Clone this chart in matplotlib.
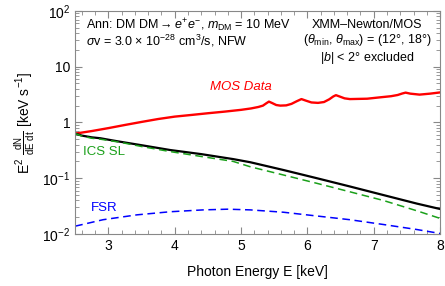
import matplotlib
matplotlib.use('Agg')
import matplotlib.pyplot as plt
from matplotlib.ticker import MultipleLocator, LogLocator, NullFormatter

plt.rcParams['font.family'] = ['Liberation Sans', 'DejaVu Sans']
plt.rcParams['mathtext.fontset'] = 'custom'
plt.rcParams['mathtext.rm'] = 'Liberation Sans'
plt.rcParams['mathtext.it'] = 'Liberation Sans:italic'
plt.rcParams['mathtext.bf'] = 'Liberation Sans:bold'

# datos
E_mos = [2.5, 2.75, 3.0, 3.25, 3.5, 3.75, 4.0, 4.25, 4.5, 4.75, 5.0, 5.15, 5.26,
         5.33, 5.38, 5.42, 5.47, 5.53, 5.59, 5.68, 5.76, 5.84, 5.91, 5.98, 6.06,
         6.16, 6.25, 6.33, 6.39, 6.43, 6.49, 6.56, 6.64, 6.9, 7.1, 7.26, 7.36,
         7.43, 7.48, 7.55, 7.69, 7.85, 8.0]
mos = [0.63, 0.70, 0.79, 0.90, 1.02, 1.15, 1.27, 1.36, 1.46, 1.56, 1.68, 1.78, 1.89,
       2.00, 2.20, 2.36, 2.22, 2.05, 2.00, 2.02, 2.15, 2.40, 2.62, 2.45, 2.28,
       2.24, 2.32, 2.60, 2.92, 3.08, 2.90, 2.70, 2.62, 2.66, 2.82, 2.95, 3.10,
       3.30, 3.42, 3.28, 3.15, 3.28, 3.45]

E_mod = [2.5, 2.6, 2.75, 2.88, 3.0, 3.18, 3.5, 3.93, 4.4, 4.88, 5.14, 5.64,
         6.14, 6.64, 7.14, 7.65, 8.0]
total = [0.63, 0.58, 0.54, 0.52, 0.49, 0.45, 0.39, 0.32, 0.27, 0.22, 0.193, 0.14,
         0.10, 0.071, 0.050, 0.035, 0.028]
ics = [0.63, 0.57, 0.52, 0.50, 0.475, 0.44, 0.37, 0.30, 0.245, 0.20, 0.16, 0.114,
       0.081, 0.057, 0.040, 0.026, 0.019]

E_fsr = [2.5, 2.58, 2.92, 3.43, 3.93, 4.43, 4.8, 5.14, 5.64, 6.14, 6.64, 7.14, 7.65, 8.0]
fsr = [0.0138, 0.0145, 0.018, 0.022, 0.025, 0.027, 0.0278, 0.027, 0.0245, 0.021,
       0.018, 0.0148, 0.012, 0.0102]

fig = plt.figure(figsize=(4.45, 2.86), dpi=100)
ax = fig.add_axes([0.169, 0.182, 0.820, 0.780])

ax.plot(E_mos, mos, color='red', lw=1.7)
ax.plot(E_mod, total, color='black', lw=1.6)
ax.plot(E_mod, ics, color='#1aa01a', lw=1.1, ls=(0, (5, 3)))
ax.plot(E_fsr, fsr, color='blue', lw=1.1, ls=(0, (5, 3)))

ax.set_yscale('log')
ax.set_xlim(2.5, 8)
ax.set_ylim(1e-2, 1e2)
ax.xaxis.set_major_locator(MultipleLocator(1))
ax.xaxis.set_minor_locator(MultipleLocator(0.2))
ax.yaxis.set_minor_locator(LogLocator(base=10, subs=range(2, 10), numticks=10))
ax.yaxis.set_minor_formatter(NullFormatter())
ax.set_yticks([1e-2, 1e-1, 1, 10, 100])
ax.set_yticklabels(['10$^{-2}$', '10$^{-1}$', '1', '10', '10$^2$'])

ax.tick_params(which='both', direction='in', top=True, right=True, labelsize=10,
               color='#888888')
ax.tick_params(which='major', length=5)
ax.tick_params(which='minor', length=3)
for s in ax.spines.values():
    s.set_color('#888888')

ax.set_xlabel('Photon Energy E [keV]', fontsize=10, labelpad=9)
ax.set_ylabel(r'E$^2$ $\frac{\mathrm{dN}}{\mathrm{dE\ dt}}$ [keV s$^{-1}$]', fontsize=10, labelpad=4)

ax.text(0.03, 0.917, r'Ann: DM DM$\rightarrow e^{+}e^{-}$, $m_{\mathrm{DM}}$ = 10 MeV',
        transform=ax.transAxes, fontsize=9, va='baseline', ha='left')
ax.text(0.03, 0.845, r'$\sigma$v = 3.0 $\times$ 10$^{-28}$ cm$^3$/s, NFW',
        transform=ax.transAxes, fontsize=9, va='baseline', ha='left')
ax.text(0.80, 0.924, 'XMM\u2013Newton/MOS', transform=ax.transAxes, fontsize=9,
        va='baseline', ha='center')
ax.text(0.80, 0.855, r'($\theta_{\mathrm{min}}$, $\theta_{\mathrm{max}}$) = (12°, 18°)',
        transform=ax.transAxes, fontsize=9, va='baseline', ha='center')
ax.text(0.80, 0.776, r'|$b$| < 2° excluded', transform=ax.transAxes, fontsize=9,
        va='baseline', ha='center')

ax.text(5.0, 4.4, 'MOS Data', color='red', fontsize=9.5, style='italic', ha='center', va='center')
ax.text(2.61, 0.29, 'ICS SL', color='#1aa01a', fontsize=9.5, ha='left', va='center')
ax.text(2.73, 0.0295, 'FSR', color='blue', fontsize=9.5, ha='left', va='center')

fig.savefig('out.png', dpi=100)
